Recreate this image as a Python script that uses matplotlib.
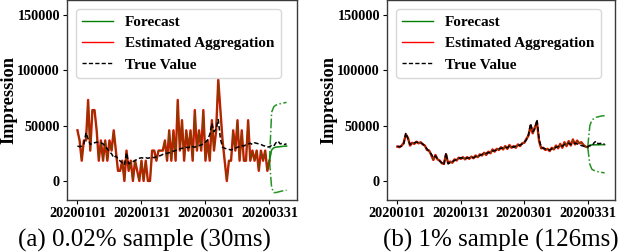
import matplotlib
matplotlib.use("Agg")
import matplotlib.pyplot as plt
from matplotlib.lines import Line2D

# ---------------- data ----------------
tick_labels = ["20200101", "20200131", "20200301", "20200331"]
tick_days = [0, 30, 60, 90]

hist_days = list(range(0, 91))     # 20200101 .. 20200331
all_days = list(range(0, 99))      # 20200101 .. 20200408
fc_days = list(range(90, 99))

true_value = [
    31500, 31000, 31500, 33500, 43500, 38000, 33000, 34000, 34500, 35000,
    34800, 34500, 33500, 31500, 29000, 26500, 24500, 21000, 22500, 20000,
    18000, 16500, 14500, 25500, 15500, 16500, 17500, 18500, 19500, 20500,
    21000, 20500, 21000, 20500, 21000, 21500, 21000, 22000, 22500, 23000,
    24000, 24500, 25000, 25500, 26000, 27000, 27500, 28000, 29000, 29500,
    30000, 30500, 30000, 31500, 31000, 30500, 31500, 32000, 32500, 33500,
    35000, 37000, 42000, 52000, 44500, 47000, 55500, 38000, 30500, 29500,
    29000, 28500, 28000, 29000, 29500, 30500, 31000, 32000, 31500, 33000,
    33500, 34000, 33000, 34500, 34000, 33500, 33000, 32000, 31500, 30500,
    31000, 32000, 31500, 34500, 36000, 33500, 34000, 33000, 33500,
]

# (a) 0.02% sample
est_a = [
    45750, 36600, 18300, 36600, 36600, 73200, 27450, 64050, 64050, 45750,
    18300, 36600, 18300, 36600, 18300, 36600, 27450, 45750, 27450, 9150,
    9150, 18300, 0, 27450, 9150, 18300, 0, 18300, 9150, 0,
    18300, 0, 18300, 0, 0, 27450, 27450, 18300, 27450, 27450,
    27450, 36600, 18300, 45750, 18300, 45750, 18300, 73200, 27450, 54900,
    18300, 45750, 27450, 45750, 18300, 64050, 27450, 45750, 27450, 64050,
    18300, 36600, 18300, 54900, 27450, 45750, 91500, 64050, 36600, 18300,
    0, 18300, 18300, 45750, 27450, 54900, 18300, 45750, 18300, 18300,
    54900, 18300, 27450, 18300, 27450, 9150, 27450, 18300, 27450, 9150,
    18300,
]
fc_mean_a = [18300, 28000, 30000, 30500, 30800, 31000, 31200, 31400, 31500]
fc_upper_a = [18300, 62000, 67000, 68500, 69300, 69800, 70200, 70600, 71000]
fc_lower_a = [18300, -6000, -10500, -10500, -10000, -9500, -9000, -8700, -8400]

# (b) 1% sample
est_b = [
    31000, 30500, 31800, 34500, 42000, 39000, 32000, 34500, 33500, 35500,
    34000, 35000, 33000, 32000, 28000, 27500, 23500, 19000, 23500, 19500,
    18500, 16000, 15500, 24000, 16000, 17500, 16500, 19500, 18500, 21000,
    20000, 21500, 19500, 21500, 20000, 22000, 20500, 23000, 21500, 24000,
    23000, 25500, 23500, 26500, 25000, 28500, 26500, 29000, 28000, 30500,
    28500, 31500, 29000, 32500, 30000, 31500, 30000, 33000, 31500, 34000,
    34500, 38000, 41000, 50000, 43000, 48500, 53000, 36000, 29500, 30000,
    28000, 29000, 27000, 30000, 28500, 32000, 29500, 33500, 30000, 35000,
    31500, 36000, 32000, 37500, 33000, 36500, 34000, 35000, 32500, 31000,
    30500,
]
fc_mean_b = [30500, 32300, 32600, 32700, 32700, 32700, 32800, 32800, 32800]
fc_upper_b = [30500, 50000, 55000, 56500, 57500, 58000, 58500, 58800, 59000]
fc_lower_b = [30500, 15000, 10500, 9500, 8800, 8300, 7900, 7600, 7300]

captions = ["(a) 0.02% sample (30ms)", "(b) 1% sample (126ms)"]

# ---------------- style ----------------
SERIF = ["Liberation Serif", "DejaVu Serif"]
plt.rcParams["font.family"] = SERIF

RED = "#ff0000"
GREEN = "#008000"

fig = plt.figure(figsize=(6.18, 2.52), dpi=100)
ax_rects = [
    [67 / 618, 52 / 252, 230 / 618, 200 / 252],
    [387 / 618, 52 / 252, 228 / 618, 200 / 252],
]
caption_x = [144 / 618, 501 / 618]

panels = [
    (est_a, fc_mean_a, fc_upper_a, fc_lower_a),
    (est_b, fc_mean_b, fc_upper_b, fc_lower_b),
]

for i, (est, fmean, fup, flo) in enumerate(panels):
    ax = fig.add_axes(ax_rects[i])
    ax.plot(hist_days, est, color=RED, lw=1.7, zorder=2)
    fitted = list(est) + list(fmean[1:])
    ax.plot(all_days, fitted, color=GREEN, lw=0.9, alpha=0.55, zorder=3)
    ax.plot(fc_days, fmean, color=GREEN, lw=1.1, alpha=0.8, zorder=3)
    ax.plot(fc_days, fup, color=GREEN, lw=1.1, ls="-.", alpha=0.85, zorder=3)
    ax.plot(fc_days, flo, color=GREEN, lw=1.1, ls="-.", alpha=0.85, zorder=3)
    ax.plot(all_days, true_value, color="black", lw=1.1, ls=(0, (3, 1.6)), zorder=4)

    ax.set_ylim(-17200, 163500)
    ax.set_xlim(-4.9, 102.9)
    ax.set_yticks([0, 50000, 100000, 150000])
    ax.set_yticklabels(["0", "50000", "100000", "150000"],
                       fontsize=10.3, fontweight="bold")
    ax.set_xticks(tick_days)
    ax.set_xticklabels(tick_labels, fontsize=10.3, fontweight="bold")
    ax.tick_params(axis="both", length=3, width=0.8, pad=2, colors="black")
    for s in ax.spines.values():
        s.set_color("#3a3a3a")
        s.set_linewidth(1.0)
    ax.set_ylabel("Impression", fontsize=13.2, fontweight="bold", labelpad=0)

    handles = [
        Line2D([], [], color=GREEN, lw=1.0),
        Line2D([], [], color=RED, lw=1.0),
        Line2D([], [], color="black", lw=1.0, ls=(0, (3, 1.6))),
    ]
    ax.legend(handles, ["Forecast", "Estimated Aggregation", "True Value"],
              loc="upper left", prop={"family": SERIF, "weight": "bold", "size": 11},
              frameon=True, fancybox=True, edgecolor="#d0d0d0",
              borderaxespad=0.6, handlelength=2.0, labelspacing=0.5)

    fig.text(caption_x[i], 5.5 / 252, captions[i], ha="center", va="baseline",
             fontsize=18, family=SERIF)

fig.savefig("out.png", dpi=100)
